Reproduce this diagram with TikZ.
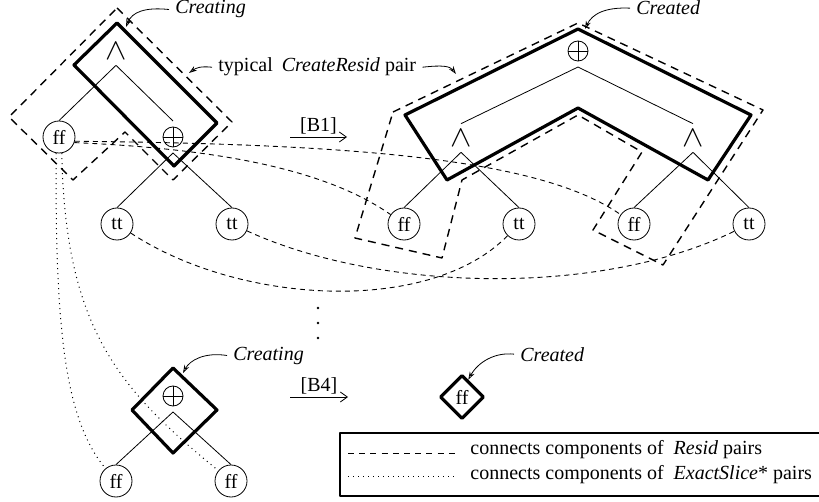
\documentclass[tikz,border=0pt]{standalone}
\usepackage{fontspec}
\setmainfont{Liberation Serif}
\usetikzlibrary{arrows.meta,shapes.geometric}
\newcommand\andsym{\scalebox{1.6}[1.5]{$\wedge$}}

\begin{document}
\begin{tikzpicture}[x=0.5pt,y=-0.5pt,font=\fontsize{10}{12}\selectfont,
  >={Straight Barb[length=3.5pt,width=5pt]},line join=round,
  leaf/.style={circle,draw,thin,minimum size=16pt,inner sep=0pt},
  oplusnode/.style={circle,draw,thin,minimum size=10pt,inner sep=0pt,outer sep=3pt,
    path picture={\draw[thin] (path picture bounding box.north)--(path picture bounding box.south)
      (path picture bounding box.west)--(path picture bounding box.east);}},
  andnode/.style={inner sep=0pt,outer sep=3pt},
  branch/.style={thin},
  thickbox/.style={line width=1.6pt},
  pairbox/.style={line width=0.7pt,dash pattern=on 4pt off 3pt},
  resid/.style={line width=0.45pt,dash pattern=on 2.5pt off 2pt},
  residkey/.style={line width=0.45pt,dash pattern=on 3pt off 2.6pt},
  slice/.style={line width=0.5pt,dotted},
  note/.style={thin,-{Stealth[open,length=4pt,width=2.6pt]}},
  lbl/.style={inner xsep=3pt,inner ysep=0pt,anchor=base west}]
  \useasboundingbox (0,0) rectangle (819,502);

  % Creating tree, top left
  \draw[thickbox] (117,23)--(217,123)--(174,166)--(74,65)--cycle;
  \node[andnode] (andA) at (116,51) {\andsym};
  \coordinate (forkA) at (andA.south);
  \node[leaf] (ffA) at (59,137) {ff};
  \node[oplusnode] (plusA) at (173,137) {};
  \coordinate (forkP) at (plusA.south);
  \node[leaf] (ttA1) at (117,224) {tt};
  \node[leaf] (ttA2) at (232,224) {tt};
  \draw[branch] (forkA)--(ffA.north) (forkA)--(plusA.north);
  \draw[branch] (forkP)--(ttA1.north) (forkP)--(ttA2.north);
  \draw[pairbox] (117,8)--(232,122)--(173,180)--(125,132)--(73,180)--(9,117)--cycle;

  % Created tree, top right
  \draw[thickbox] (578,29)--(751,115)--(708,180)--(578,108)--(447,180)--(405,115)--cycle;
  \node[oplusnode] (plusB) at (578,51) {};
  \coordinate (forkB) at (plusB.south);
  \node[andnode] (andB1) at (461,138) {\andsym};
  \node[andnode] (andB2) at (693,138) {\andsym};
  \coordinate (forkB1) at (andB1.south);
  \coordinate (forkB2) at (andB2.south);
  \node[leaf] (ffB1) at (404,224) {ff};
  \node[leaf] (ttB1) at (519,224) {tt};
  \node[leaf] (ffB2) at (634,224) {ff};
  \node[leaf] (ttB2) at (749,224) {tt};
  \draw[branch] (forkB)--(andB1.north) (forkB)--(andB2.north);
  \draw[branch] (forkB1)--(ffB1.north) (forkB1)--(ttB1.north);
  \draw[branch] (forkB2)--(ffB2.north) (forkB2)--(ttB2.north);
  \draw[pairbox] (393,112)--(578,23)--(763,110)--(663,265)--(593,230)--(642,152)
    --(578,115)--(462,180)--(442,258)--(355,238)--cycle;

  % Creating tree, bottom
  \draw[thickbox] (173,368)--(217,410)--(173,453)--(132,410)--cycle;
  \node[oplusnode] (plusC) at (173,396) {};
  \coordinate (forkC) at (plusC.south);
  \node[leaf] (ffC1) at (116,481) {ff};
  \node[leaf] (ffC2) at (231,481) {ff};
  \draw[branch] (forkC)--(ffC1.north) (forkC)--(ffC2.north);

  % Created, bottom
  \node[diamond,draw,line width=1.6pt,aspect=1,minimum size=22pt,inner sep=0pt] (ffD) at (462,397) {ff};

  % Resid and ExactSlice* links
  \draw[resid] (ffA.-15) .. controls (350,144) and (540,158) .. (ffB2);
  \draw[resid] (ffA.-20) .. controls (200,148) and (320,165) .. (ffB1);
  \draw[resid] (ttA1) .. controls (240,305) and (430,315) .. (ttB1);
  \draw[resid] (ttA2) .. controls (380,292) and (600,297) .. (ttB2);
  \draw[slice] (ffA.-100) .. controls (55,330) and (65,420) .. (ffC1);
  \draw[slice] (ffA.-80) .. controls (65,330) and (120,390) .. (ffC2);

  % steps
  \coordinate (b1s) at (290,137);
  \coordinate (b1e) at (347,137);
  \draw[thin,->] (b1s)--(b1e) node[midway,above=1pt,inner sep=0pt] (lblB1) {[B1]};
  \coordinate (b4s) at (290,397);
  \coordinate (b4e) at (348,397);
  \draw[thin,->] (b4s)--(b4e) node[midway,above=1pt,inner sep=0pt] (lblB4) {[B4]};
  \foreach \y in {308,323,338} \fill (318,\y) circle (0.7pt);

  % annotations
  \node[lbl] (lblCreatingA) at (169,14) {\textit{Creating}};
  \node[lbl] (lblPair) at (212,72) {typical\hspace{0.45em}\textit{CreateResid} pair};
  \node[lbl] (lblCreatedB) at (630,15) {\textit{Created}};
  \node[lbl] (lblCreatingC) at (227,360) {\textit{Creating}};
  \node[lbl] (lblCreatedD) at (514,361) {\textit{Created}};
  \coordinate (tipA) at (126,27);
  \coordinate (tipPL) at (189,73);
  \coordinate (tipPR) at (456,74);
  \coordinate (tipB) at (585,29);
  \coordinate (tipC) at (183,373);
  \draw[note] (lblCreatingA.west) .. controls (145,7) and (132,12) .. (tipA);
  \draw[note] (lblPair.west) .. controls (200,66) and (196,68) .. (tipPL);
  \draw[note] (lblPair.east) .. controls (442,65) and (450,66) .. (tipPR);
  \draw[note] (lblCreatedB.west) .. controls (605,7) and (592,14) .. (tipB);
  \draw[note] (lblCreatingC.west) .. controls (205,352) and (190,360) .. (tipC);
  \draw[note] (lblCreatedD.west) .. controls (495,352) and (478,362) .. (ffD.70);

  % legend
  \draw[line width=0.6pt] (340,433) rectangle (830,496);
  \coordinate (lgR1) at (348,453);
  \coordinate (lgR2) at (457,453);
  \draw[residkey] (lgR1)--(lgR2);
  \node[lbl] (lgTxtR) at (464,454) {connects components of\hspace{0.5em}\textit{Resid} pairs};
  \coordinate (lgS1) at (348,476);
  \coordinate (lgS2) at (457,476);
  \draw[slice] (lgS1)--(lgS2);
  \node[lbl] (lgTxtS) at (464,479) {connects components of\hspace{0.5em}\textit{ExactSlice}* pairs};
\end{tikzpicture}
\end{document}
